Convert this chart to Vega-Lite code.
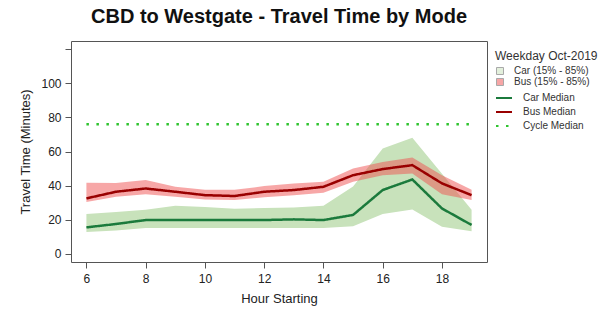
{
  "$schema": "https://vega.github.io/schema/vega-lite/v6.json",
  "width": 416,
  "height": 221,
  "autosize": {"type": "none"},
  "padding": {"left": 71, "top": 41, "right": 129, "bottom": 51},
  "background": "white",
  "config": {
    "font": "Liberation Sans",
    "view": {"stroke": "#555", "strokeWidth": 1},
    "axis": {"grid": false, "domain": false, "tickColor": "#555", "tickSize": 6, "labelColor": "#222", "labelFontSize": 12, "titleFontSize": 13, "titleFontWeight": "normal", "titleColor": "#222"},
    "legend": {"labelFontSize": 10, "labelColor": "#333", "titleFontSize": 12, "titleFontWeight": "normal", "titleColor": "#333"}
  },
  "title": {"text": "CBD to Westgate - Travel Time by Mode", "fontSize": 20, "fontWeight": "bold", "color": "#111", "anchor": "middle", "offset": 14},
  "datasets": {
    "bands": [
      {"hour": 6, "series": "Car (15% - 85%)", "lo": 12.8, "hi": 23.3},
      {"hour": 7, "series": "Car (15% - 85%)", "lo": 13.6, "hi": 24.5},
      {"hour": 8, "series": "Car (15% - 85%)", "lo": 15.2, "hi": 25.9},
      {"hour": 9, "series": "Car (15% - 85%)", "lo": 15.2, "hi": 28.2},
      {"hour": 10, "series": "Car (15% - 85%)", "lo": 15.2, "hi": 27.4},
      {"hour": 11, "series": "Car (15% - 85%)", "lo": 15.2, "hi": 26.5},
      {"hour": 12, "series": "Car (15% - 85%)", "lo": 15.2, "hi": 26.8},
      {"hour": 13, "series": "Car (15% - 85%)", "lo": 15.2, "hi": 27.2},
      {"hour": 14, "series": "Car (15% - 85%)", "lo": 15.2, "hi": 28.2},
      {"hour": 15, "series": "Car (15% - 85%)", "lo": 16.1, "hi": 39.5},
      {"hour": 16, "series": "Car (15% - 85%)", "lo": 23.3, "hi": 61.7},
      {"hour": 17, "series": "Car (15% - 85%)", "lo": 26.0, "hi": 68.0},
      {"hour": 18, "series": "Car (15% - 85%)", "lo": 15.8, "hi": 47.0},
      {"hour": 19, "series": "Car (15% - 85%)", "lo": 13.3, "hi": 25.9},
      {"hour": 6, "series": "Bus (15% - 85%)", "lo": 30.4, "hi": 41.7},
      {"hour": 7, "series": "Bus (15% - 85%)", "lo": 33.5, "hi": 41.5},
      {"hour": 8, "series": "Bus (15% - 85%)", "lo": 35.0, "hi": 43.3},
      {"hour": 9, "series": "Bus (15% - 85%)", "lo": 33.5, "hi": 39.4},
      {"hour": 10, "series": "Bus (15% - 85%)", "lo": 31.9, "hi": 37.5},
      {"hour": 11, "series": "Bus (15% - 85%)", "lo": 31.5, "hi": 37.5},
      {"hour": 12, "series": "Bus (15% - 85%)", "lo": 33.1, "hi": 39.7},
      {"hour": 13, "series": "Bus (15% - 85%)", "lo": 34.4, "hi": 41.3},
      {"hour": 14, "series": "Bus (15% - 85%)", "lo": 35.8, "hi": 42.2},
      {"hour": 15, "series": "Bus (15% - 85%)", "lo": 42.2, "hi": 50.0},
      {"hour": 16, "series": "Bus (15% - 85%)", "lo": 46.1, "hi": 53.9},
      {"hour": 17, "series": "Bus (15% - 85%)", "lo": 47.1, "hi": 56.5},
      {"hour": 18, "series": "Bus (15% - 85%)", "lo": 35.0, "hi": 46.1},
      {"hour": 19, "series": "Bus (15% - 85%)", "lo": 31.5, "hi": 37.5}
    ],
    "medians": [
      {"hour": 6, "series": "Car Median", "value": 15.5},
      {"hour": 7, "series": "Car Median", "value": 17.5},
      {"hour": 8, "series": "Car Median", "value": 19.8},
      {"hour": 9, "series": "Car Median", "value": 19.8},
      {"hour": 10, "series": "Car Median", "value": 19.8},
      {"hour": 11, "series": "Car Median", "value": 19.8},
      {"hour": 12, "series": "Car Median", "value": 19.8},
      {"hour": 13, "series": "Car Median", "value": 20.2},
      {"hour": 14, "series": "Car Median", "value": 19.8},
      {"hour": 15, "series": "Car Median", "value": 22.8},
      {"hour": 16, "series": "Car Median", "value": 37.4},
      {"hour": 17, "series": "Car Median", "value": 43.6},
      {"hour": 18, "series": "Car Median", "value": 26.6},
      {"hour": 19, "series": "Car Median", "value": 16.9},
      {"hour": 6, "series": "Bus Median", "value": 32.5},
      {"hour": 7, "series": "Bus Median", "value": 36.4},
      {"hour": 8, "series": "Bus Median", "value": 38.3},
      {"hour": 9, "series": "Bus Median", "value": 36.4},
      {"hour": 10, "series": "Bus Median", "value": 34.4},
      {"hour": 11, "series": "Bus Median", "value": 33.9},
      {"hour": 12, "series": "Bus Median", "value": 36.4},
      {"hour": 13, "series": "Bus Median", "value": 37.4},
      {"hour": 14, "series": "Bus Median", "value": 39.3},
      {"hour": 15, "series": "Bus Median", "value": 46.1},
      {"hour": 16, "series": "Bus Median", "value": 49.7},
      {"hour": 17, "series": "Bus Median", "value": 52.0},
      {"hour": 18, "series": "Bus Median", "value": 41.3},
      {"hour": 19, "series": "Bus Median", "value": 34.4},
      {"hour": 6, "series": "Cycle Median", "value": 76},
      {"hour": 19, "series": "Cycle Median", "value": 76}
    ]
  },
  "encoding": {
    "x": {"field": "hour", "type": "quantitative", "scale": {"domain": [5.48, 19.52], "nice": false, "zero": false},
      "axis": {"title": "Hour Starting", "values": [6, 8, 10, 12, 14, 16, 18], "labelPadding": 5, "titlePadding": 8}}
  },
  "layer": [
    {
      "data": {"name": "bands"},
      "transform": [{"filter": "datum.series == 'Car (15% - 85%)'"}],
      "mark": {"type": "area", "opacity": 1},
      "encoding": {
        "y": {"field": "lo", "type": "quantitative", "scale": {"domain": [-4.8, 124.8], "nice": false, "zero": false},
          "axis": {"title": "Travel Time (Minutes)", "values": [0, 20, 40, 60, 80, 100, 120], "tickCount": 7,
            "labelExpr": "datum.value >= 110 ? '' : datum.label",
            "labelOverlap": false, "labelAngle": 0, "labelPadding": 4, "titlePadding": 8}},
        "y2": {"field": "hi"},
        "fill": {"field": "series", "type": "nominal",
          "scale": {"domain": ["Car (15% - 85%)", "Bus (15% - 85%)"], "range": ["#c8e2bb", "#f05050"]},
          "legend": {
            "title": "Weekday Oct-2019", "orient": "none", "legendX": 424, "legendY": 10,
            "titlePadding": 3, "rowPadding": -1, "symbolType": "square", "symbolSize": 49, "symbolOpacity": 1,
            "symbolStrokeColor": "#555", "symbolStrokeWidth": 1, "labelOffset": 9
          }}
      }
    },
    {
      "data": {"name": "bands"},
      "transform": [{"filter": "datum.series == 'Bus (15% - 85%)'"}],
      "mark": {"type": "area", "opacity": 0.5},
      "encoding": {
        "y": {"field": "lo", "type": "quantitative"},
        "y2": {"field": "hi"},
        "fill": {"field": "series", "type": "nominal"}
      }
    },
    {
      "data": {"name": "medians"},
      "mark": {"type": "line", "strokeWidth": 2.5, "strokeCap": "butt"},
      "encoding": {
        "y": {"field": "value", "type": "quantitative"},
        "stroke": {"field": "series", "type": "nominal",
          "scale": {"domain": ["Car Median", "Bus Median", "Cycle Median"], "range": ["#1b7a3c", "#990000", "#2fc42f"]},
          "legend": {
            "title": null, "orient": "none", "legendX": 424, "legendY": 48, "rowPadding": -5.5,
            "symbolType": "stroke", "symbolSize": 256, "symbolStrokeWidth": 2, "labelOffset": 10
          }},
        "strokeDash": {"field": "series", "type": "nominal",
          "scale": {"domain": ["Car Median", "Bus Median", "Cycle Median"], "range": [[1, 0], [1, 0], [2.5, 7.5]]},
          "legend": {
            "title": null, "orient": "none", "legendX": 424, "legendY": 48, "rowPadding": -5.5,
            "symbolType": "stroke", "symbolSize": 256, "symbolStrokeWidth": 2, "labelOffset": 10
          }}
      }
    }
  ]
}
